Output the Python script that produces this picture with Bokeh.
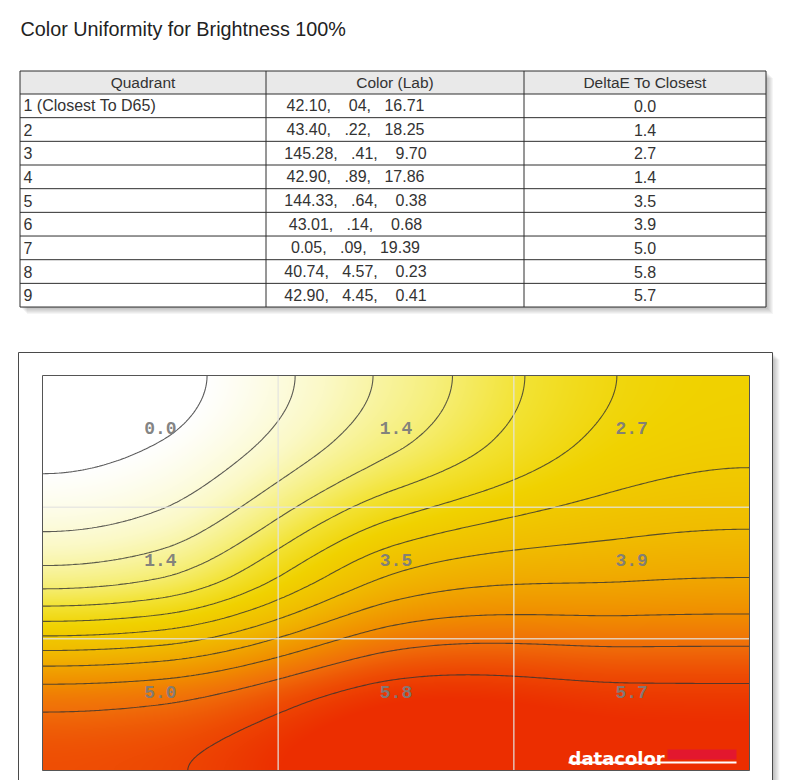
import numpy as np
from bokeh.plotting import figure
from bokeh.layouts import column
from bokeh.models import Range1d, Label
from bokeh.core.properties import value
from bokeh.embed import file_html
from bokeh.resources import INLINE

# ---------------- data ----------------
title_text = "Color Uniformity for Brightness 100%"
col_headers = ["Quadrant", "Color (Lab)", "DeltaE To Closest"]
quadrants = ["1 (Closest To D65)", "2", "3", "4", "5", "6", "7", "8", "9"]
lab_values = [
    "42.10,    04,   16.71",
    "43.40,   .22,   18.25",
    "145.28,   .41,    9.70",
    "42.90,   .89,   17.86",
    "144.33,   .64,    0.38",
    "43.01,   .14,    0.68",
    "0.05,   .09,   19.39",
    "40.74,   4.57,    0.23",
    "42.90,   4.45,    0.41",
]
delta_e = [0.0, 1.4, 2.7, 1.4, 3.5, 3.9, 5.0, 5.8, 5.7]
n_cols = 3  # quadrants laid out 3 x 3, row-major from top-left

FONT = value("Liberation Sans")
NBSP = "\u00a0"
TSIZE = "16px"

# ---------------- table figure ----------------
W = 790
H1 = 340
p1 = figure(width=W, height=H1, x_range=Range1d(0, W), y_range=Range1d(H1, 0),
            output_backend="svg", toolbar_location=None,
            x_axis_location=None, y_axis_location=None, min_border=0)
p1.grid.visible = False
p1.outline_line_color = None
p1.background_fill_color = "white"

p1.text(x=[20], y=[28], text=[title_text], text_font=FONT, text_font_size="19.8px",
        text_color="#222222", text_baseline="middle", text_align="left")

TL, TR, TT = 19.5, 765.5, 70.5
HEAD_H, ROW_H = 23.0, 23.67
n_rows = len(quadrants)
TB = TT + HEAD_H + ROW_H * n_rows
col_edges = [TL, 265.5, 523.5, TR]

# shadow
for i in range(1, 8):
    p1.quad(left=[TL + i], right=[TR + i], top=[TT + i], bottom=[TB + i],
            fill_color="black", fill_alpha=0.04, line_color=None)
# body + header
p1.quad(left=[TL], right=[TR], top=[TT], bottom=[TB], fill_color="white", line_color=None)
p1.quad(left=[TL], right=[TR], top=[TT], bottom=[TT + HEAD_H], fill_color="#e9e9e9", line_color=None)

row_bounds = [TT] + [TT + HEAD_H + ROW_H * k for k in range(n_rows + 1)]
p1.multi_line(xs=[[TL, TR] for _ in row_bounds], ys=[[yb, yb] for yb in row_bounds],
              line_color="#2e2e2e", line_width=1)
p1.multi_line(xs=[[xe, xe] for xe in col_edges], ys=[[TT, TB] for _ in col_edges],
              line_color="#2e2e2e", line_width=1)

head_y = TT + HEAD_H / 2
col_centers = [(col_edges[k] + col_edges[k + 1]) / 2 for k in range(3)]
p1.text(x=col_centers, y=[head_y] * 3, text=col_headers, text_font=FONT, text_font_size="15.5px",
        text_color="#333333", text_align="center", text_baseline="middle")

row_y = [TT + HEAD_H + ROW_H * (k + 0.5) for k in range(n_rows)]
p1.text(x=[TL + 3.5] * n_rows, y=row_y, text=quadrants, text_font=FONT, text_font_size=TSIZE,
        text_color="#333333", text_align="left", text_baseline="middle")
p1.text(x=[355] * n_rows, y=row_y, text=[s.replace(" ", NBSP) for s in lab_values], text_font=FONT,
        text_font_size=TSIZE, text_color="#333333", text_align="center", text_baseline="middle")
p1.text(x=[col_centers[2]] * n_rows, y=row_y, text=[f"{v:.1f}" for v in delta_e], text_font=FONT,
        text_font_size=TSIZE, text_color="#333333", text_align="center", text_baseline="middle")

# ---------------- contour / heat map figure ----------------
H2 = 440
PX_X = 707 / 3.0
PX_Y = 395 / 3.0
x0 = -42 / PX_X
x1 = 3 + 41 / PX_X
y1 = 3 + 35 / PX_Y
y0 = -10 / PX_Y
p2 = figure(width=W, height=H2, x_range=Range1d(x0, x1), y_range=Range1d(y0, y1),
            output_backend="svg", toolbar_location=None,
            x_axis_location=None, y_axis_location=None, min_border=0)
p2.grid.visible = False
p2.outline_line_color = None
p2.background_fill_color = "white"

# outer frame with shadow
fl, fr, ft, fb = -24 / PX_X, 3 + 23 / PX_X, 3 + 23 / PX_Y, y0 - 1
for i in range(1, 8):
    p2.quad(left=[fl + i / PX_X], right=[fr + i / PX_X], top=[ft - i / PX_Y], bottom=[fb],
            fill_color="black", fill_alpha=0.04, line_color=None)
p2.quad(left=[fl], right=[fr], top=[ft], bottom=[fb], fill_color="white",
        line_color="#4a4a4a", line_width=1)


# smooth surface through the 3x3 values: Catmull-Rom cubic with mirrored
# (zero-gradient) boundaries, applied as a tensor product
def cr(v0, v1, v2, t):
    m0 = (v1 - v0) / 2.0
    m1 = (v2 - v0) / 2.0
    m2 = (v2 - v1) / 2.0

    def seg(a, b, ma, mb, s):
        h00 = 2 * s**3 - 3 * s**2 + 1
        h10 = s**3 - 2 * s**2 + s
        h01 = -2 * s**3 + 3 * s**2
        h11 = s**3 - s**2
        return h00 * a + h10 * ma + h01 * b + h11 * mb

    return np.select(
        [t < 0, t < 1, t < 2],
        [seg(v0, v0, -m0, m0, np.clip(t + 1, 0, 1)),
         seg(v0, v1, m0, m1, np.clip(t, 0, 1)),
         seg(v1, v2, m1, m2, np.clip(t - 1, 0, 1))],
        default=seg(v2, v2, m2, -m2, np.clip(t - 2, 0, 1)))


grid_vals = np.array(delta_e).reshape(-1, n_cols)
n_grid_rows = grid_vals.shape[0]


def field(xs, ys):
    tx = xs - 0.5
    rows = [cr(r[0], r[1], r[2], tx) for r in grid_vals]
    ty = (n_grid_rows - 0.5) - ys
    return cr(rows[0][None, :], rows[1][None, :], rows[2][None, :], ty[:, None])


NX, NY = 707, 395
xs = (np.arange(NX) + 0.5) * 3.0 / NX
ys = (np.arange(NY) + 0.5) * 3.0 / NY
Z = field(xs, ys)

stops_v = [0.0, 0.7, 1.4, 2.0, 2.7, 3.5, 3.9, 4.5, 5.0, 5.4, 5.8]
stops_c = [(255, 255, 255), (251, 249, 198), (246, 239, 122), (243, 227, 52), (240, 210, 0),
           (240, 188, 0), (240, 172, 0), (240, 142, 0), (240, 110, 10), (238, 76, 4), (236, 46, 0)]
img = np.empty((NY, NX), dtype=np.uint32)
view = img.view(dtype=np.uint8).reshape((NY, NX, 4))
zc = np.clip(Z, stops_v[0], stops_v[-1])
for ch in range(3):
    view[:, :, ch] = np.interp(zc, stops_v, [c[ch] for c in stops_c]).astype(np.uint8)
view[:, :, 3] = 255
p2.image_rgba(image=[img], x=0, y=0, dw=n_cols, dh=n_grid_rows)

cx = np.linspace(0, 3, 301)
cy = np.linspace(0, 3, 181)
Zc = field(cx, cy)
levels = list(np.arange(0.0, 5.51, 0.5))
p2.contour(x=cx, y=cy, z=Zc, levels=levels, fill_color=None,
           line_color="#333333", line_alpha=0.8, line_width=1.1)

# quadrant boundaries
vx = list(range(1, n_cols))
hy = list(range(1, n_grid_rows))
p2.multi_line(xs=[[v, v] for v in vx] + [[0, n_cols] for _ in hy],
              ys=[[0, n_grid_rows] for _ in vx] + [[h, h] for h in hy],
              line_color="#e4e4e0", line_alpha=0.8, line_width=1.5)

p2.quad(left=[0], right=[n_cols], bottom=[0], top=[n_grid_rows], fill_color=None,
        line_color="#555555", line_width=1)

node_x = [(i % n_cols) + 0.5 for i in range(len(delta_e))]
node_y = [(n_grid_rows - 0.5) - (i // n_cols) for i in range(len(delta_e))]
p2.text(x=node_x, y=node_y, text=[f"{v:.1f}" for v in delta_e],
        text_font=value("Liberation Mono"), text_font_style="bold", text_font_size="18px",
        text_color="#7c7c7c", text_alpha=0.95, text_align="center", text_baseline="middle",
        y_offset=-13)

# datacolor logo
lx0 = (568 - 42) / PX_X
lx1 = (736 - 42) / PX_X
p2.quad(left=[(667 - 42) / PX_X], right=[lx1], bottom=[(770 - 759) / PX_Y], top=[(770 - 749) / PX_Y],
        fill_color="#e3172e", line_color=None)
p2.quad(left=[lx0], right=[lx1], bottom=[(770 - 763) / PX_Y], top=[(770 - 761) / PX_Y],
        fill_color="white", line_color=None)
p2.add_layout(Label(x=lx0, y=(770 - 758) / PX_Y, text="datacolor", text_color="white",
                    text_font="DejaVu Sans", text_font_style="bold", text_font_size="18px",
                    text_baseline="alphabetic", text_align="left"))

layout = column(p1, p2, spacing=0)
open("out.html", "w").write(file_html(layout, INLINE))
